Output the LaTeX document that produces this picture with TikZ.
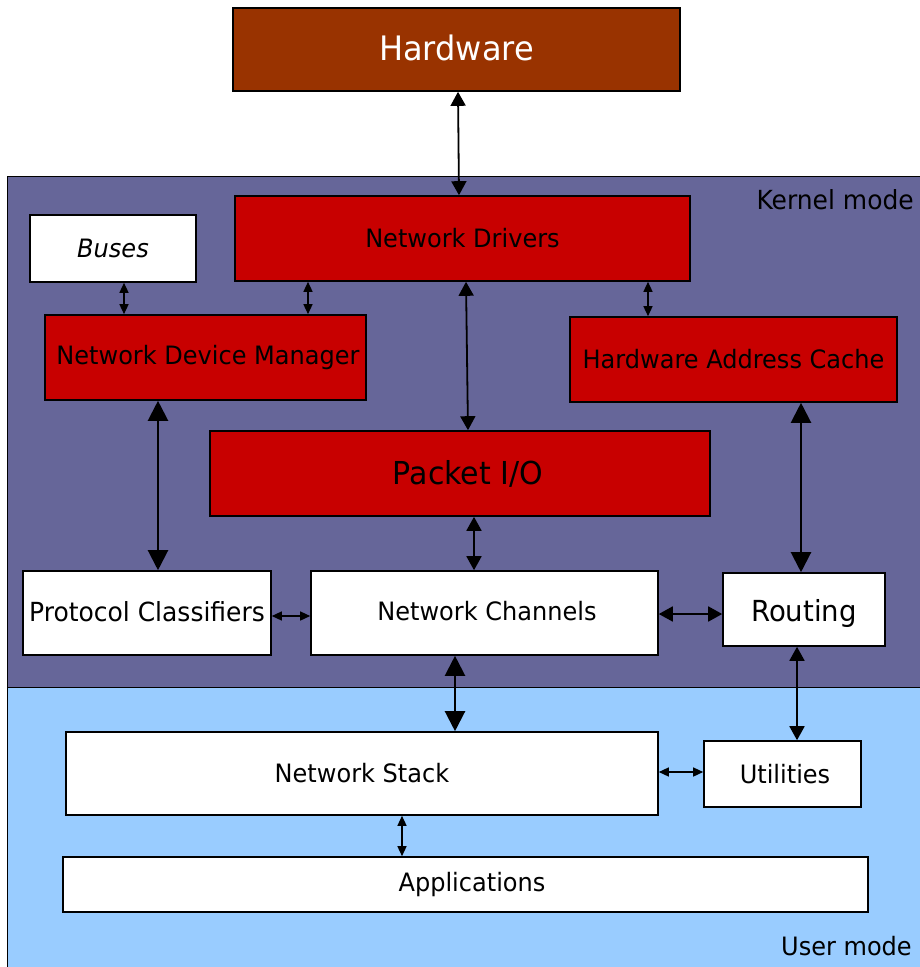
\documentclass[tikz,border=0pt]{standalone}
\usepackage{fontspec}
\setmainfont[FakeStretch=0.95]{DejaVu Sans}
\usetikzlibrary{arrows.meta}
\definecolor{kern}{HTML}{666699}
\definecolor{usr}{HTML}{99CCFF}
\definecolor{myred}{HTML}{C80000}
\definecolor{hwcol}{HTML}{993300}
\newcommand{\shiftv}[2]{\raisebox{#1}[\height][\depth]{#2}}
\begin{document}
\begin{tikzpicture}[x=1pt,y=-1pt,
  box/.style={draw=black,line width=1.6pt,inner sep=0pt,font=\fontsize{25.3}{29}\selectfont},
  redbox/.style={box,fill=myred},
  whitebox/.style={box,fill=white},
  region/.style={draw=black,line width=1.4pt,inner sep=0pt,anchor=north west},
  tipS/.style={line width=1.4pt,{Triangle[length=10pt,width=9pt]}-{Triangle[length=10pt,width=9pt]}},
  tipM/.style={line width=1.8pt,{Triangle[length=14pt,width=15pt]}-{Triangle[length=14pt,width=15pt]}},
  tipL/.style={line width=2.2pt,{Triangle[length=20pt,width=20pt]}-{Triangle[length=20pt,width=20pt]}}]
\useasboundingbox (0,0) rectangle (920,967);
\fill[white] (0,0) rectangle (920,967);
% regions
\node[region,fill=kern,minimum width=916pt,minimum height=511pt] (kernel) at (7,176) {};
\node[region,fill=usr,minimum width=916pt,minimum height=284pt] (user) at (7,687) {};
\node[anchor=base east,inner sep=0pt,font=\fontsize{26.3}{30}\selectfont] (kmode) at (914,209) {Kernel mode};
\node[anchor=base east,inner sep=0pt,font=\fontsize{25.3}{29}\selectfont] (umode) at (912,955) {User mode};
% boxes
\node[box,fill=hwcol,text=white,minimum width=447pt,minimum height=83pt,font=\fontsize{33.7}{38}\selectfont] (hw) at (456.5,49.5) {\shiftv{2pt}{Hardware}};
\node[redbox,minimum width=455pt,minimum height=85pt] (nd) at (462.5,238.5) {Network Drivers};
\node[whitebox,minimum width=166pt,minimum height=67pt] (buses) at (113,248.5) {\itshape Buses};
\node[redbox,minimum width=321pt,minimum height=85pt] (ndm) at (205.5,357.5) {\hspace{5pt}Network Device Manager};
\node[redbox,minimum width=327pt,minimum height=85pt] (hac) at (733.5,359.5) {Hardware Address Cache};
\node[redbox,minimum width=500pt,minimum height=85pt,font=\fontsize{31.6}{36}\selectfont] (pio) at (460,473.5) {\hspace{16pt}Packet I/O};
\node[whitebox,minimum width=248pt,minimum height=84pt,font=\fontsize{26.3}{30}\selectfont] (pc) at (147,613) {\shiftv{1.5pt}{Protocol Classifiers}};
\node[whitebox,minimum width=347pt,minimum height=84pt] (nc) at (484.5,613) {\shiftv{1.5pt}{\hspace{5pt}Network Channels}};
\node[whitebox,minimum width=162pt,minimum height=73pt,font=\fontsize{29}{33}\selectfont] (rt) at (804,609.5) {\shiftv{-4pt}{Routing}};
\node[whitebox,minimum width=592pt,minimum height=83pt] (ns) at (362,773.5) {Network Stack\hspace{14pt}};
\node[whitebox,minimum width=157pt,minimum height=66pt] (ut) at (782.5,774) {\hspace{5pt}Utilities};
\node[whitebox,minimum width=805pt,minimum height=55pt] (ap) at (465.5,884.5) {\hspace{13pt}Applications};
% connectors
\draw[tipM] ([xshift=1.5pt]hw.south) -- ([xshift=-3.5pt]nd.north);
\draw[tipS] ([xshift=11pt]buses.south) -- ([xshift=-81.5pt]ndm.north);
\draw[tipS] ([xshift=-154.5pt]nd.south) -- ([xshift=102.5pt]ndm.north);
\draw[tipS] ([xshift=185.5pt]nd.south) -- ([xshift=-85.5pt]hac.north);
\draw[tipM] ([xshift=3.5pt]nd.south) -- ([xshift=8pt]pio.north);
\draw[tipL] ([xshift=-47.5pt]ndm.south) -- ([xshift=11pt]pc.north);
\draw[tipL] ([xshift=67.5pt]hac.south) -- ([xshift=-3pt]rt.north);
\draw[tipM] ([xshift=14pt]pio.south) -- ([xshift=-10.5pt]nc.north);
\draw[tipS] ([yshift=-3pt]pc.east) -- ([yshift=-3pt]nc.west);
\draw[tipM] ([yshift=-1pt]nc.east) -- ([yshift=-4.5pt]rt.west);
\draw[tipL] ([xshift=-29.5pt]nc.south) -- ([xshift=93pt]ns.north);
\draw[tipM] ([xshift=-7pt]rt.south) -- ([xshift=14.5pt]ut.north);
\draw[tipS] ([yshift=1.5pt]ns.east) -- ([yshift=2pt]ut.west);
\draw[tipS] ([xshift=40pt]ns.south) -- ([xshift=-63.5pt]ap.north);
\end{tikzpicture}
\end{document}
